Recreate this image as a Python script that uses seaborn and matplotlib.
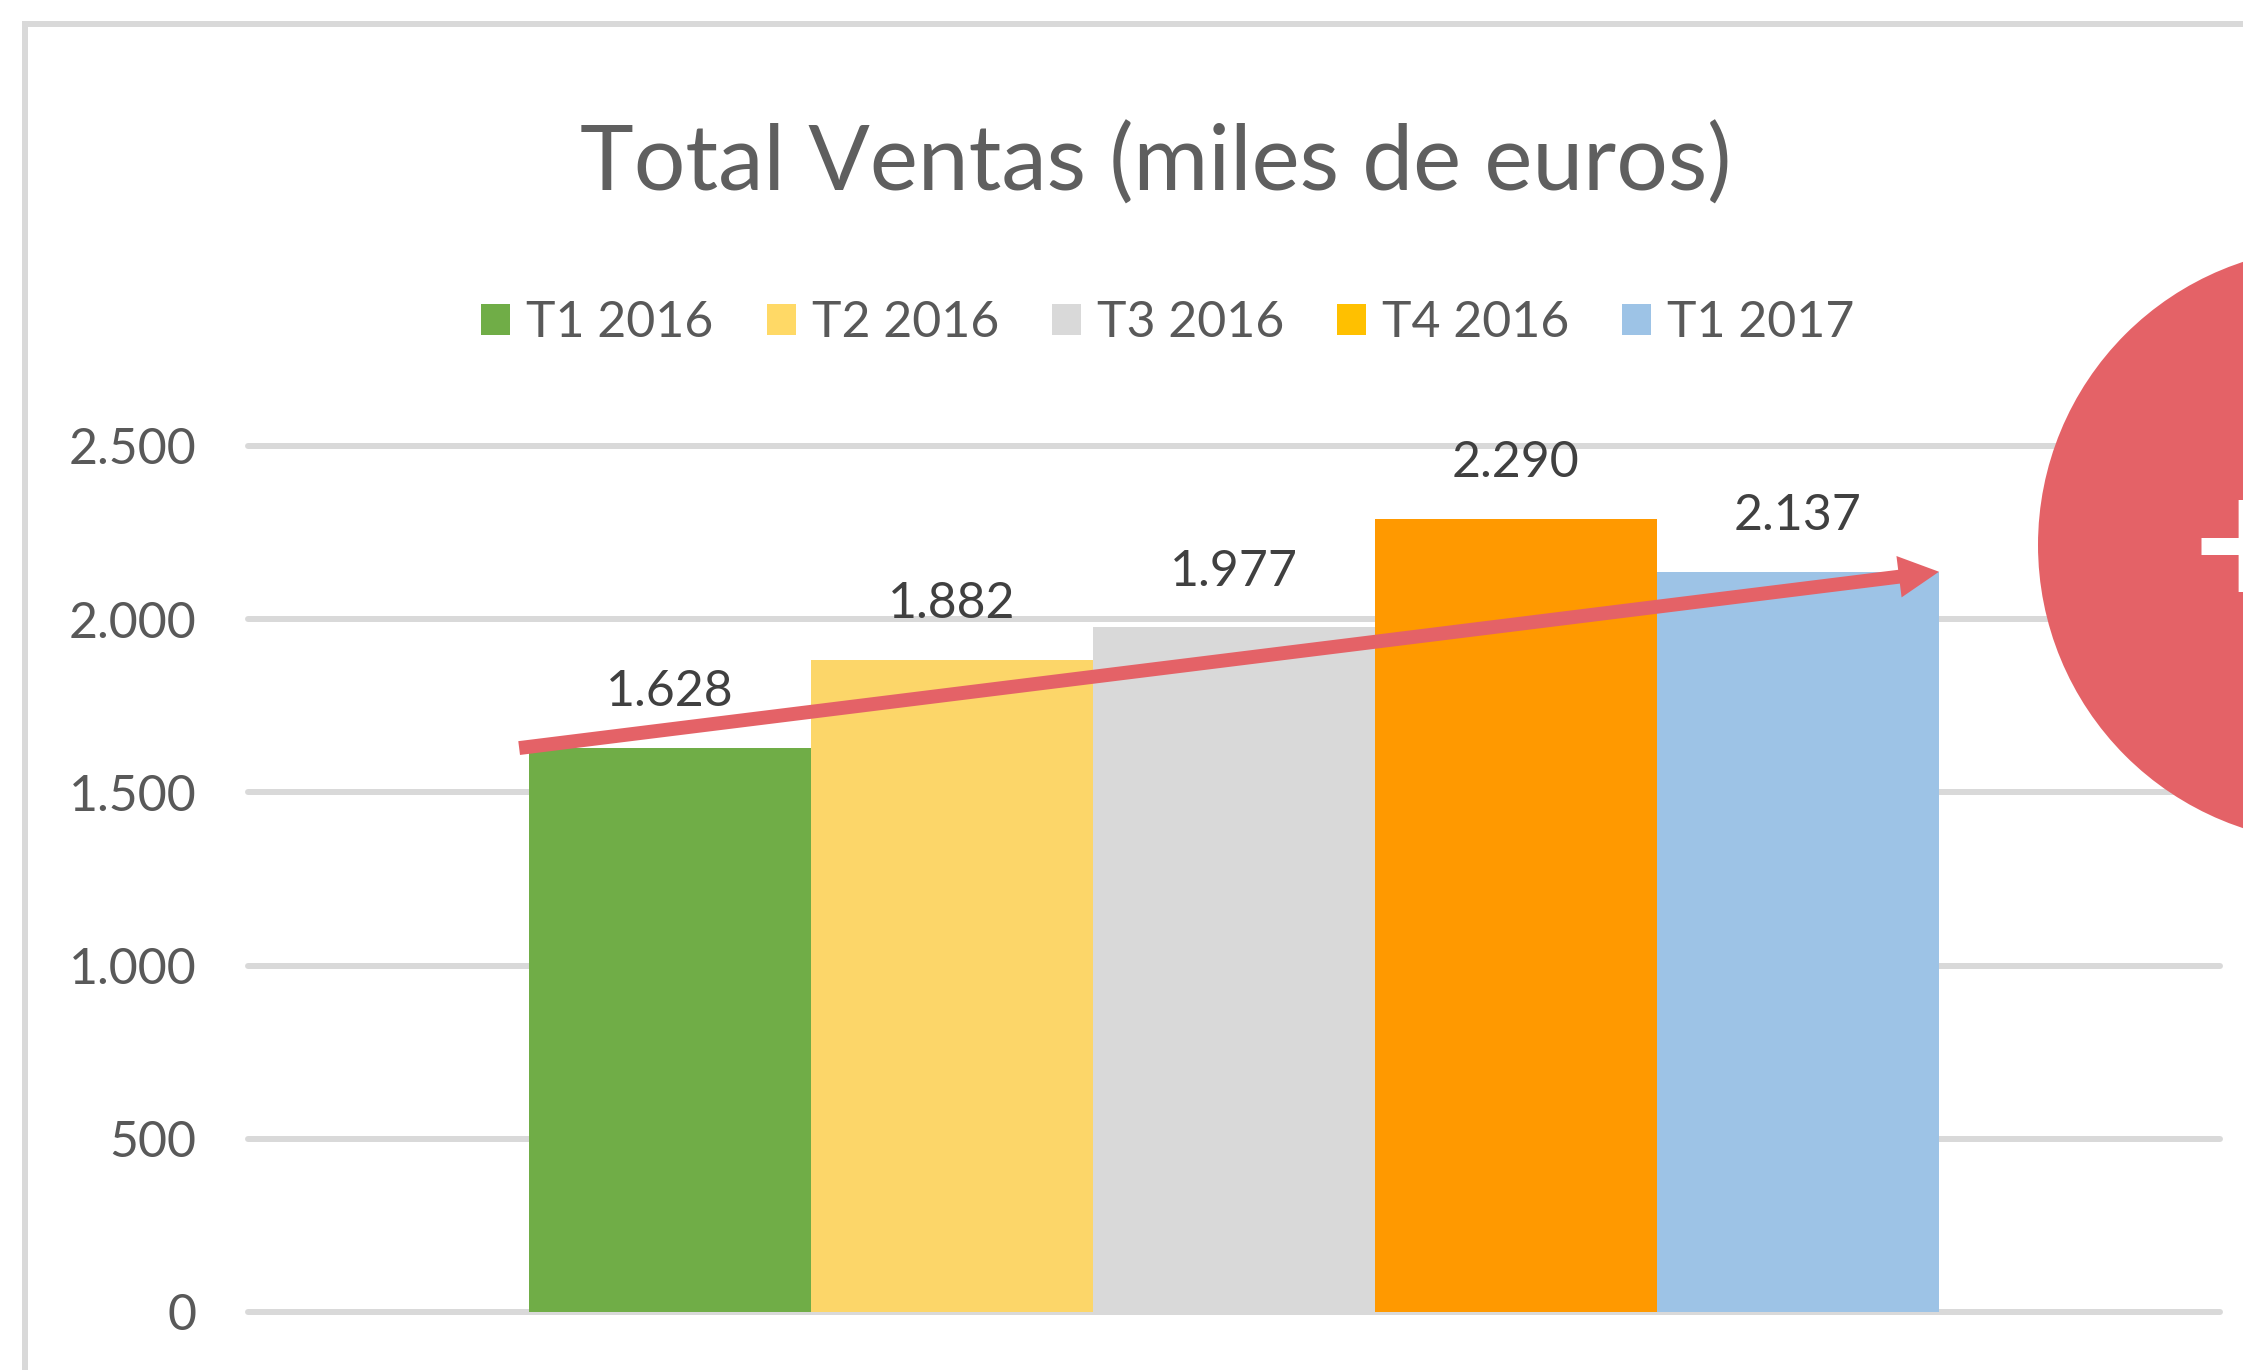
import numpy as np
import pandas as pd
import matplotlib
matplotlib.use("Agg")
import matplotlib.pyplot as plt
import seaborn as sns
from matplotlib.patches import Patch, Circle
from matplotlib.lines import Line2D
from matplotlib.ticker import FuncFormatter

# ---------------- data ----------------
title = "Total Ventas (miles de euros)"
periods = ["T1 2016", "T2 2016", "T3 2016", "T4 2016", "T1 2017"]
sales = [1628, 1882, 1977, 2290, 2137]
bar_colors = ["#70AD47", "#FCD669", "#D9D9D9", "#FF9900", "#9DC3E6"]
legend_colors = ["#70AD47", "#FFD966", "#D9D9D9", "#FFC000", "#9DC3E6"]
y_ticks = [0, 500, 1000, 1500, 2000, 2500]
group = ["Total"] * len(periods)

W, H, DPI = 2243, 1370, 100
sns.set_theme(style="white")
plt.rcParams["font.family"] = ["Lato", "DejaVu Sans"]

fig = plt.figure(figsize=(W / DPI, H / DPI), dpi=DPI)
fig.patch.set_facecolor("white")


def fx(px):
    return px / W


def fy(py):
    return 1 - py / H


ax = fig.add_axes([fx(248), fy(1312), fx(2220) - fx(248), fy(446) - fy(1312)])
ax.set_facecolor("none")
df = pd.DataFrame({"grupo": group, "periodo": periods, "ventas": sales})
sns.barplot(data=df, x="grupo", y="ventas", hue="periodo", hue_order=periods,
            palette=bar_colors, width=0.715, saturation=1, linewidth=0,
            errorbar=None, legend=False, ax=ax, zorder=3)

ax.set_xlim(-0.5, 0.5)
ax.set_ylim(0, 2500)
for t in y_ticks:
    ax.axhline(t, color="#D9D9D9", lw=4.3, zorder=1, clip_on=False)
ax.set_yticks(y_ticks)
ax.yaxis.set_major_formatter(FuncFormatter(lambda v, p: f"{int(v):,}".replace(",", ".")))
ax.tick_params(axis="y", length=0, pad=37, labelsize=36, labelcolor="#595959")
ax.set_xticks([])
ax.set_xlabel("")
ax.set_ylabel("")
for s in ax.spines.values():
    s.set_visible(False)
ax.grid(False)

bars = sorted(ax.patches, key=lambda p: p.get_x())
for p, v in zip(bars, sales):
    ax.annotate(f"{v:,}".replace(",", "."),
                xy=(p.get_x() + p.get_width() / 2, p.get_height()),
                xytext=(0, 30), textcoords="offset points",
                ha="center", va="baseline", fontsize=36, color="#404040",
                annotation_clip=False, zorder=4)

first, last = bars[0], bars[-1]
ax.annotate("", xy=(last.get_x() + last.get_width(), last.get_height()),
            xytext=(first.get_x() - 0.005, first.get_height()),
            arrowprops=dict(arrowstyle="simple,head_length=29,head_width=30,tail_width=10",
                            mutation_scale=1, color="#E46267", lw=0,
                            shrinkA=0, shrinkB=0),
            annotation_clip=False, zorder=6)

# legend
handles = [Patch(facecolor=c, edgecolor="none") for c in legend_colors]
fig.legend(handles, periods, loc="center", bbox_to_anchor=(fx(1168), fy(323)),
           ncol=5, frameon=False, fontsize=36, handlelength=0.58, handleheight=0.6,
           handletextpad=0.32, columnspacing=1.06, labelcolor="#595959")

# title
fig.text(fx(1156), fy(191), title, ha="center", va="baseline", fontsize=65.5,
         color="#5f5f5f", fontweight="normal")

# chart frame
fig.add_artist(Line2D([fx(22), fx(W + 10)], [fy(24), fy(24)], transform=fig.transFigure,
                      color="#D9D9D9", lw=4.3, solid_capstyle="butt"))
fig.add_artist(Line2D([fx(25), fx(25)], [fy(21), fy(H + 10)], transform=fig.transFigure,
                      color="#D9D9D9", lw=4.3, solid_capstyle="butt"))

# decorative red badge on the right
circ = Circle((2336 / DPI, (H - 545) / DPI), 298 / DPI, transform=fig.dpi_scale_trans,
              facecolor="#E46267", edgecolor="none", zorder=5)
fig.add_artist(circ)
fig.text(fx(2247), fy(552), "+", ha="center", va="center", fontsize=105,
         color="white", fontweight="bold", family="DejaVu Sans", zorder=7)

fig.savefig("out.png", dpi=DPI, facecolor="white")
